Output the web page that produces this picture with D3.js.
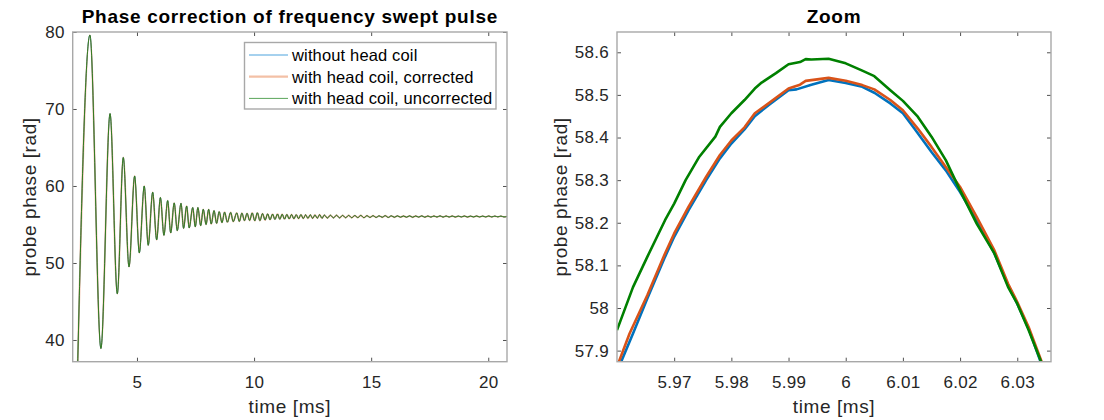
<!DOCTYPE html>
<html lang="en">
<head>
  <meta charset="UTF-8" />
  <title>Phase correction of frequency swept pulse</title>
  <script src="https://d3js.org/d3.v7.min.js"></script>
  <style>
    body { margin: 0; background: #fff; }
    svg { font-family: "Liberation Sans", Arial, sans-serif; }
    .tick text { fill: #262626; font-size: 17px; letter-spacing: 0.3px; }
    .tick line { stroke: #262626; stroke-width: 0.8; }
  </style>
</head>
<body>
  <div id="vis-container"></div>

  <script>
    // overview: extrema of the damped oscillation (ms, rad)
    const overviewTime = [
      2.40, 2.99, 3.46, 3.85, 4.16, 4.415, 4.66, 4.90, 5.10, 5.31, 5.48, 5.67, 5.84, 6.00,
      6.15, 6.31, 6.44, 6.59, 6.72, 6.88, 6.99, 7.12, 7.23, 7.38, 7.49, 7.60, 7.72, 7.83,
      7.95, 8.06, 8.17, 8.29, 8.40, 8.51, 8.63, 8.74, 8.86, 9.00, 9.11, 9.26, 9.37, 9.48,
      9.59, 9.70, 9.81, 9.92, 10.03, 10.14, 10.25, 10.36, 10.47, 10.58, 10.68, 10.79, 10.89,
      11.00, 11.10, 11.20, 11.30, 11.40, 11.50, 11.60, 11.70, 11.80, 11.90, 12.00, 12.10,
      12.20, 12.30, 12.40, 12.50, 12.60, 12.70, 12.80, 12.90, 13.00, 13.13, 13.26, 13.39,
      13.52, 13.65, 13.78, 13.91, 14.04, 14.17, 14.30, 14.43, 14.56, 14.69, 14.82, 14.95,
      15.08, 15.21, 15.34, 15.47, 15.60, 15.73, 15.86, 15.99, 16.12, 16.25, 16.38, 16.51,
      16.64, 16.77, 16.90, 17.03, 17.16, 17.29, 17.42, 17.55, 17.68, 17.81, 17.94, 18.07,
      18.20, 18.33, 18.46, 18.59, 18.72, 18.85, 18.98, 19.11, 19.24, 19.37, 19.50, 19.63,
      19.76, 19.89, 20.02, 20.15, 20.28, 20.41, 20.54, 20.67, 20.80
    ];
    const overviewPhase = [
      28.0, 79.6, 38.9, 69.4, 46.0, 63.7, 49.5, 61.3, 51.3, 60.0, 52.3, 59.2, 53.0, 58.5,
      53.6, 58.1, 53.9, 57.8, 54.2, 57.75, 54.5, 57.4, 54.55, 57.2, 54.7, 57.2, 54.85, 56.97,
      55.0, 56.97, 55.06, 56.8, 55.15, 56.66, 55.24, 56.6, 55.3, 56.56, 55.37, 56.5, 55.4, 56.48,
      55.5, 56.45, 55.52, 56.5, 55.48, 56.52, 55.5, 56.42, 55.58, 56.38, 55.62, 56.35, 55.66,
      56.36, 55.68, 56.33, 55.7, 56.3, 55.72, 56.3, 55.74, 56.27, 55.76, 56.28, 55.78,
      56.25, 55.8, 56.26, 55.8, 56.24, 55.82, 56.28, 55.8, 56.22, 55.84, 56.2, 55.86,
      56.2, 55.86, 56.18, 55.88, 56.18, 55.88, 56.16, 55.9, 56.18, 55.88, 56.14, 55.92,
      56.14, 55.92, 56.12, 55.94, 56.14, 55.92, 56.12, 55.94, 56.12, 55.95, 56.1, 55.95,
      56.12, 55.94, 56.1, 55.96, 56.12, 55.95, 56.1, 55.96, 56.1, 55.97, 56.12, 55.96,
      56.1, 55.97, 56.1, 55.97, 56.09, 55.98, 56.1, 55.97, 56.09, 55.98, 56.1, 55.98,
      56.09, 55.98, 56.1, 55.98, 56.09, 55.99, 56.09, 55.98, 56.05
    ];

    // zoom panel: the three series around the peak near 6 ms
    const zoomTimeBlue = [
      5.9607, 5.9628, 5.9653, 5.9684, 5.970, 5.9725, 5.9756, 5.978, 5.980, 5.9823, 5.9841,
      5.9865, 5.990, 5.9914, 5.994, 5.997, 6.000, 6.0029, 6.005, 6.0078, 6.010, 6.012,
      6.015, 6.0175, 6.020, 6.0229, 6.026, 6.0284, 6.030, 6.032, 6.0341
    ];
    const zoomPhaseBlue = [
      57.873, 57.94, 58.022, 58.12, 58.167, 58.229, 58.30, 58.351, 58.386, 58.419, 58.45,
      58.476, 58.511, 58.513, 58.524, 58.535, 58.528, 58.519, 58.505, 58.48, 58.457, 58.421,
      58.366, 58.323, 58.272, 58.206, 58.128, 58.053, 58.01, 57.951, 57.873
    ];
    const zoomTimeOrange = [
      5.9603, 5.9622, 5.9653, 5.9684, 5.970, 5.9725, 5.9756, 5.978, 5.980, 5.9823, 5.9841,
      5.9865, 5.990, 5.992, 5.993, 5.997, 6.000, 6.0029, 6.005, 6.0078, 6.010, 6.0126,
      6.015, 6.0175, 6.020, 6.0229, 6.026, 6.0284, 6.030, 6.032, 6.0343
    ];
    const zoomPhaseOrange = [
      57.873, 57.94, 58.03, 58.128, 58.175, 58.237, 58.308, 58.359, 58.393, 58.424, 58.457,
      58.48, 58.515, 58.524, 58.533, 58.54, 58.533, 58.523, 58.513, 58.488, 58.464, 58.421,
      58.378, 58.331, 58.284, 58.214, 58.135, 58.057, 58.014, 57.955, 57.873
    ];
    const zoomTimeGreen = [
      5.960, 5.9628, 5.9653, 5.9684, 5.970, 5.972, 5.9744, 5.9772, 5.978, 5.980, 5.9823,
      5.9841, 5.9853, 5.9878, 5.990, 5.992, 5.993, 5.994, 5.997, 6.000, 6.0029, 6.005,
      6.0078, 6.010, 6.0126, 6.015, 6.0175, 6.020, 6.0229, 6.026, 6.0284, 6.030, 6.032, 6.0342
    ];
    const zoomPhaseGreen = [
      57.948, 58.049, 58.12, 58.206, 58.245, 58.30, 58.355, 58.402, 58.425, 58.457, 58.488,
      58.515, 58.529, 58.551, 58.572, 58.577, 58.584, 58.583, 58.585, 58.574, 58.557, 58.544,
      58.511, 58.486, 58.449, 58.402, 58.347, 58.276, 58.198, 58.128, 58.049, 58.01, 57.948, 57.873
    ];

    const overviewXTicks = [5, 10, 15, 20];
    const overviewYTicks = [40, 50, 60, 70, 80];
    const zoomXTicks = [5.97, 5.98, 5.99, 6.00, 6.01, 6.02, 6.03];
    const zoomXLabels = ["5.97", "5.98", "5.99", "6", "6.01", "6.02", "6.03"];
    const zoomYTicks = [57.9, 58.0, 58.1, 58.2, 58.3, 58.4, 58.5, 58.6];
    const zoomYLabels = ["57.9", "58", "58.1", "58.2", "58.3", "58.4", "58.5", "58.6"];
    const legendLabels = ["without head coil", "with head coil, corrected", "with head coil, uncorrected"];

    const W = 1104, H = 420;
    const plotTop = 32, plotBottom = 361.7;

    const svg = d3.select("#vis-container")
      .append("svg")
      .attr("width", W)
      .attr("height", H);

    function drawPanel(p) {
      const x = d3.scaleLinear().domain(p.xDomain).range([p.left, p.right]);
      const y = d3.scaleLinear().domain(p.yDomain).range([plotBottom, plotTop]);

      const clipId = "clip-" + p.id;
      svg.append("clipPath").attr("id", clipId)
        .append("rect")
        .attr("x", p.left).attr("y", plotTop)
        .attr("width", p.right - p.left).attr("height", plotBottom - plotTop);

      // ticks (inward, on all four sides)
      svg.append("g")
        .attr("transform", `translate(0,${plotBottom})`)
        .call(d3.axisBottom(x).tickValues(p.xTicks).tickSize(-4).tickPadding(14)
          .tickFormat((d, i) => p.xLabels[i]));
      svg.append("g")
        .attr("transform", `translate(0,${plotTop})`)
        .call(d3.axisTop(x).tickValues(p.xTicks).tickSize(-4).tickFormat(""));
      svg.append("g")
        .attr("transform", `translate(${p.left},0)`)
        .call(d3.axisLeft(y).tickValues(p.yTicks).tickSize(-4).tickPadding(8)
          .tickFormat((d, i) => p.yLabels[i]));
      svg.append("g")
        .attr("transform", `translate(${p.right},0)`)
        .call(d3.axisRight(y).tickValues(p.yTicks).tickSize(-4).tickFormat(""));
      svg.selectAll(".domain").remove();

      const lines = svg.append("g").attr("clip-path", `url(#${clipId})`);
      p.series.forEach(s => {
        const pts = s.t.map((t, i) => [t, s.v[i]]);
        lines.append("path")
          .datum(pts)
          .attr("fill", "none")
          .attr("stroke", s.color)
          .attr("stroke-width", s.width)
          .attr("stroke-opacity", s.opacity)
          .attr("stroke-linejoin", "round")
          .attr("d", d3.line().curve(p.curve).x(d => x(d[0])).y(d => y(d[1])));
      });

      // box
      svg.append("rect")
        .attr("x", p.left).attr("y", plotTop)
        .attr("width", p.right - p.left).attr("height", plotBottom - plotTop)
        .attr("fill", "none")
        .attr("stroke", "#a8a8a8")
        .attr("stroke-width", 1.4);

      const cx = (p.left + p.right) / 2;
      svg.append("text")
        .attr("x", cx).attr("y", 23)
        .attr("text-anchor", "middle")
        .style("font-size", "19px")
        .style("letter-spacing", "0.7px")
        .style("font-weight", "bold")
        .attr("fill", "#000")
        .text(p.title);

      svg.append("text")
        .attr("x", cx).attr("y", 413)
        .attr("text-anchor", "middle")
        .style("font-size", "19px")
        .style("letter-spacing", "0.6px")
        .attr("fill", "#262626")
        .text("time [ms]");

      svg.append("text")
        .attr("transform", `translate(${p.yLabelX},${(plotTop + plotBottom) / 2}) rotate(-90)`)
        .attr("text-anchor", "middle")
        .style("font-size", "19px")
        .style("letter-spacing", "0.6px")
        .attr("fill", "#262626")
        .text("probe phase [rad]");
    }

    drawPanel({
      id: "overview",
      title: "Phase correction of frequency swept pulse",
      left: 72.7, right: 507,
      xDomain: [2.255, 20.8], yDomain: [37.18, 80],
      xTicks: overviewXTicks, xLabels: overviewXTicks.map(String),
      yTicks: overviewYTicks, yLabels: overviewYTicks.map(String),
      yLabelX: 36,
      curve: d3.curveMonotoneX,
      series: [
        { t: overviewTime, v: overviewPhase, color: "#0072BD", width: 0.8, opacity: 1 },
        { t: overviewTime, v: overviewPhase, color: "#D95319", width: 1.8, opacity: 0.4 },
        { t: overviewTime, v: overviewPhase, color: "#2d7d14", width: 0.9, opacity: 1 }
      ]
    });

    drawPanel({
      id: "zoom",
      title: "Zoom",
      left: 617, right: 1051,
      xDomain: [5.96, 6.0359], yDomain: [57.874, 58.6476],
      xTicks: zoomXTicks, xLabels: zoomXLabels,
      yTicks: zoomYTicks, yLabels: zoomYLabels,
      yLabelX: 567,
      curve: d3.curveLinear,
      series: [
        { t: zoomTimeBlue, v: zoomPhaseBlue, color: "#0072BD", width: 2.6, opacity: 1 },
        { t: zoomTimeOrange, v: zoomPhaseOrange, color: "#D95319", width: 2.6, opacity: 1 },
        { t: zoomTimeGreen, v: zoomPhaseGreen, color: "#008000", width: 2.6, opacity: 1 }
      ]
    });

    // legend
    const legend = svg.append("g");
    legend.append("rect")
      .attr("x", 244.5).attr("y", 42.5)
      .attr("width", 251.5).attr("height", 66.5)
      .attr("fill", "#fff")
      .attr("stroke", "#a8a8a8")
      .attr("stroke-width", 1.4);

    const legendStyle = [
      { color: "#4da3dd", width: 1 },
      { color: "#f3c0a6", width: 2.2 },
      { color: "#5aa55a", width: 1 }
    ];
    legendLabels.forEach((label, i) => {
      const cy = 55 + i * 21.7;
      legend.append("line")
        .attr("x1", 249).attr("x2", 288)
        .attr("y1", cy).attr("y2", cy)
        .attr("stroke", legendStyle[i].color)
        .attr("stroke-width", legendStyle[i].width);
      legend.append("text")
        .attr("x", 292).attr("y", cy + 5.8)
        .style("font-size", "16.5px")
        .style("letter-spacing", "0.15px")
        .attr("fill", "#000")
        .text(label);
    });
  </script>
</body>
</html>
